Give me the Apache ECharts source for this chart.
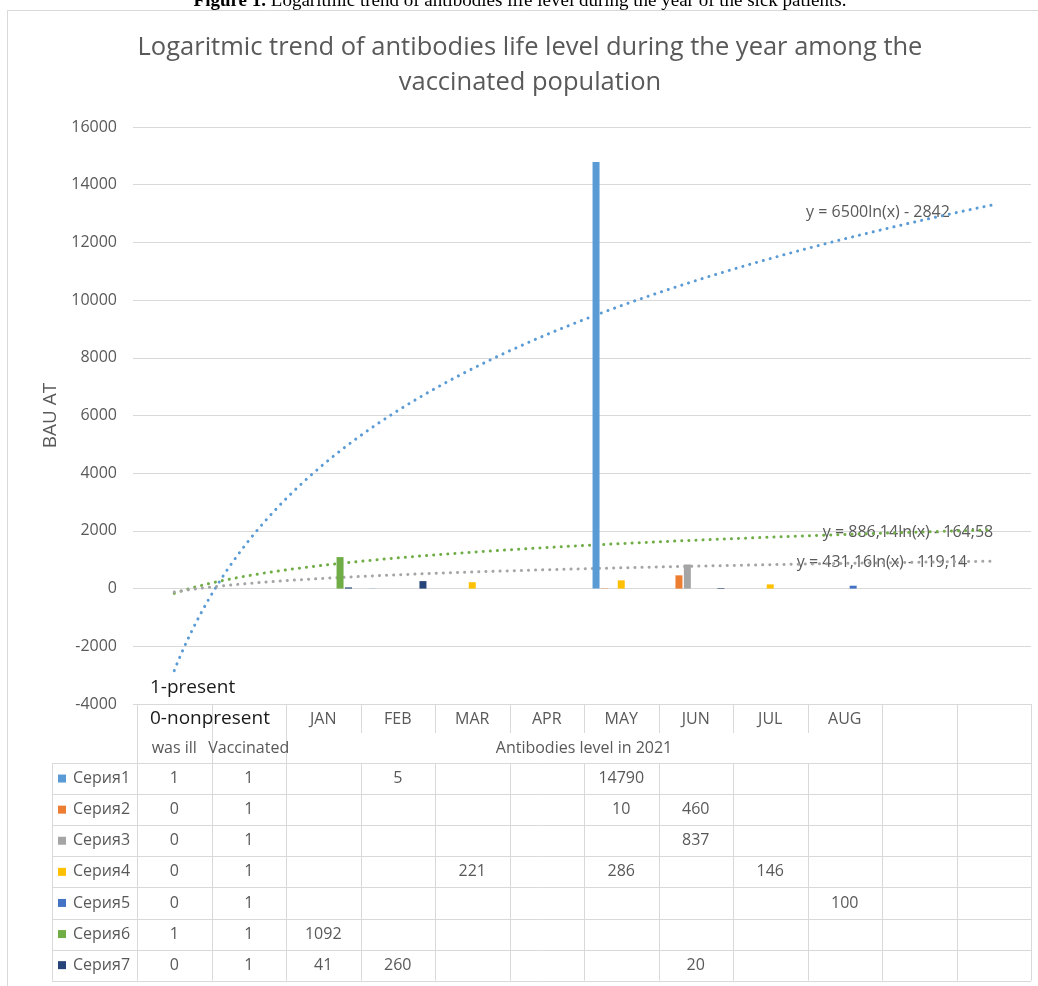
<!DOCTYPE html>
<html>
<head>
<meta charset="utf-8">
<script src="https://cdn.jsdelivr.net/npm/echarts@6/dist/echarts.min.js"></script>
<style>
  html, body { margin: 0; padding: 0; background: #fff; }
  #chart { width: 1038px; height: 986px; }
</style>
</head>
<body>
<div id="chart"></div>
<script>
// Category columns (two descriptor columns, eight months, two spare columns)
const categories = ['was ill', 'Vaccinated', 'JAN', 'FEB', 'MAR', 'APR', 'MAY', 'JUN', 'JUL', 'AUG', '', ''];
const monthLabels = ['', '', 'JAN', 'FEB', 'MAR', 'APR', 'MAY', 'JUN', 'JUL', 'AUG', '', ''];
const groupLabels = ['was ill', 'Vaccinated', 'Antibodies level in 2021'];
const groupSpans = [[0, 0], [1, 1], [2, 9]];
const levelNotes = ['1-present', '0-nonpresent'];

const seriesNames = ['Серия1', 'Серия2', 'Серия3', 'Серия4', 'Серия5', 'Серия6', 'Серия7'];
const seriesColors = ['#5b9bd5', '#ed7d31', '#a5a5a5', '#ffc000', '#4472c4', '#70ad47', '#264478'];

const s1 = [1, 1, null, 5, null, null, 14790, null, null, null, null, null];
const s2 = [0, 1, null, null, null, null, 10, 460, null, null, null, null];
const s3 = [0, 1, null, null, null, null, null, 837, null, null, null, null];
const s4 = [0, 1, null, null, 221, null, 286, null, 146, null, null, null];
const s5 = [0, 1, null, null, null, null, null, null, null, 100, null, null];
const s6 = [1, 1, 1092, null, null, null, null, null, null, null, null, null];
const s7 = [0, 1, 41, 260, null, null, null, 20, null, null, null, null];
const seriesValues = [s1, s2, s3, s4, s5, s6, s7];

// Logarithmic trend lines y = a*ln(x) + b, x = category number (1..12)
const trendOf = [0, 5, 2];
const trendA = [6500, 886.14, 431.16];
const trendB = [-2842, -164.58, -119.14];
const trendText = ['y = 6500ln(x) - 2842', 'y = 886,14ln(x) - 164;58', 'y = 431,16ln(x) - 119,14'];

const yTicks = { min: -4000, max: 16000, interval: 2000 };

const TXT = '#595959';
const LINE = '#d9d9d9';
const FONT = '"Open Sans", "Noto Sans", sans-serif';

const chart = echarts.init(document.getElementById('chart'), null, { renderer: 'canvas' });

function trendPoints(k) {
  const pts = [];
  for (let i = 0; i <= 220; i++) {
    const x = 1 + i * 0.05;
    pts.push([x, trendA[k] * Math.log(x) + trendB[k]]);
  }
  return pts;
}

const series = [];
trendOf.forEach((si, k) => {
  series.push({
    type: 'line',
    name: seriesNames[si] + ' trend',
    xAxisIndex: 1,
    data: trendPoints(k),
    showSymbol: false,
    silent: true,
    z: 1,
    lineStyle: { color: seriesColors[si], width: 3, type: [0.1, 7], cap: 'round' }
  });
});
seriesValues.forEach((vals, i) => {
  series.push({
    type: 'bar',
    name: seriesNames[i],
    xAxisIndex: 0,
    data: vals,
    barWidth: 7,
    barGap: '20%',
    z: 3,
    itemStyle: { color: seriesColors[i] }
  });
});

chart.setOption({
  animation: false,
  grid: { left: 137, top: 127, width: 894, height: 577 },
  xAxis: [
    {
      type: 'category',
      data: categories,
      boundaryGap: true,
      axisLine: { show: true, lineStyle: { color: LINE } },
      axisTick: { show: false },
      axisLabel: { show: false }
    },
    {
      type: 'value',
      min: 0.5,
      max: 12.5,
      show: false
    }
  ],
  yAxis: {
    type: 'value',
    min: yTicks.min,
    max: yTicks.max,
    interval: yTicks.interval,
    name: 'BAU AT',
    nameLocation: 'middle',
    nameGap: 64,
    nameRotate: 90,
    nameTextStyle: { color: TXT, fontSize: 19, fontFamily: FONT },
    axisLine: { show: false },
    axisTick: { show: true, length: 4, lineStyle: { color: LINE } },
    axisLabel: { color: TXT, fontSize: 16, fontFamily: FONT, margin: 20, formatter: v => String(v) },
    splitLine: { lineStyle: { color: LINE, width: 1 } }
  },
  series: series
});

// Data table under the plot, laid out on the category axis
const cx = i => chart.convertToPixel({ xAxisIndex: 0 }, i);
const band = cx(1) - cx(0);
const edge = i => cx(i) - band / 2;
const tableTop = chart.convertToPixel({ yAxisIndex: 0 }, yTicks.min);
const head1 = tableTop + 29;
const head2 = head1 + 30;
const rowH = 31.1;
const tableBottom = head2 + rowH * seriesNames.length;
const legendLeft = 52;
const n = categories.length;

const g = [];
const hline = (x1, x2, y) => g.push({ type: 'line', silent: true, shape: { x1, y1: Math.round(y) + 0.5, x2, y2: Math.round(y) + 0.5 }, style: { stroke: LINE, lineWidth: 1 } });
const vline = (x, y1, y2) => g.push({ type: 'line', silent: true, shape: { x1: Math.round(x) + 0.5, y1, x2: Math.round(x) + 0.5, y2 }, style: { stroke: LINE, lineWidth: 1 } });
const txt = (text, x, y, opt) => g.push({
  type: 'text', silent: true, x, y,
  style: Object.assign({ text, fill: TXT, font: '16px ' + FONT, textAlign: 'center', textVerticalAlign: 'middle' }, opt || {})
});

// chart area frame
g.push({ type: 'rect', silent: true, shape: { x: 7.5, y: 10.5, width: 1200, height: 1200 }, style: { fill: 'none', stroke: LINE, lineWidth: 1 } });

// figure caption (clipped at the top edge)
g.push({
  type: 'text', silent: true, x: 520, y: 11,
  style: {
    text: '{b|Figure 1.} Logaritmic trend of antibodies life level during the year of the sick patients.',
    rich: { b: { font: 'bold 19px "Liberation Serif", serif', fill: '#000' } },
    font: '19px "Liberation Serif", serif', fill: '#000',
    textAlign: 'center', textVerticalAlign: 'bottom'
  }
});

// title
txt('Logaritmic trend of antibodies life level during the year among the', 530, 48, { font: '25.5px ' + FONT });
txt('vaccinated population', 530, 83, { font: '25.5px ' + FONT });

// horizontal rules
for (let r = 0; r <= seriesNames.length; r++) hline(legendLeft, edge(n), head2 + r * rowH);

// vertical rules: within the month group only the top header row is split
vline(edge(0), tableTop, tableBottom);
for (let i = 1; i <= n; i++) {
  const inside = i > groupSpans[2][0] && i <= groupSpans[2][1];
  if (inside) {
    vline(edge(i), tableTop, head1);
    vline(edge(i), head2, tableBottom);
  } else {
    vline(edge(i), tableTop, tableBottom);
  }
}
vline(legendLeft, head2, tableBottom);

// level notes
txt(levelNotes[0], edge(0) + 13, tableTop - 16, { font: '19px ' + FONT, fill: '#1a1a1a', textAlign: 'left' });
txt(levelNotes[1], edge(0) + 13, (tableTop + head1) / 2, { font: '19px ' + FONT, fill: '#1a1a1a', textAlign: 'left' });

// month row
monthLabels.forEach((m, i) => { if (m) txt(m, cx(i), (tableTop + head1) / 2 + 1); });

// group row
groupLabels.forEach((label, k) => {
  const [a, b] = groupSpans[k];
  txt(label, (cx(a) + cx(b)) / 2, (head1 + head2) / 2);
});

// series rows
seriesNames.forEach((name, r) => {
  const yc = head2 + rowH * r + rowH / 2;
  g.push({ type: 'rect', silent: true, shape: { x: 58, y: yc - 4, width: 8, height: 8 }, style: { fill: seriesColors[r] } });
  txt(name, 73, yc, { textAlign: 'left' });
  seriesValues[r].forEach((v, i) => { if (v !== null) txt(String(v), cx(i), yc); });
});

// trend equations
const eqPos = [[878, 212], [908, 532], [882, 562]];
trendText.forEach((t, k) => txt(t, eqPos[k][0], eqPos[k][1], { font: '16px ' + FONT, fill: '#595959' }));

chart.setOption({ graphic: { elements: g } });
</script>
</body>
</html>
